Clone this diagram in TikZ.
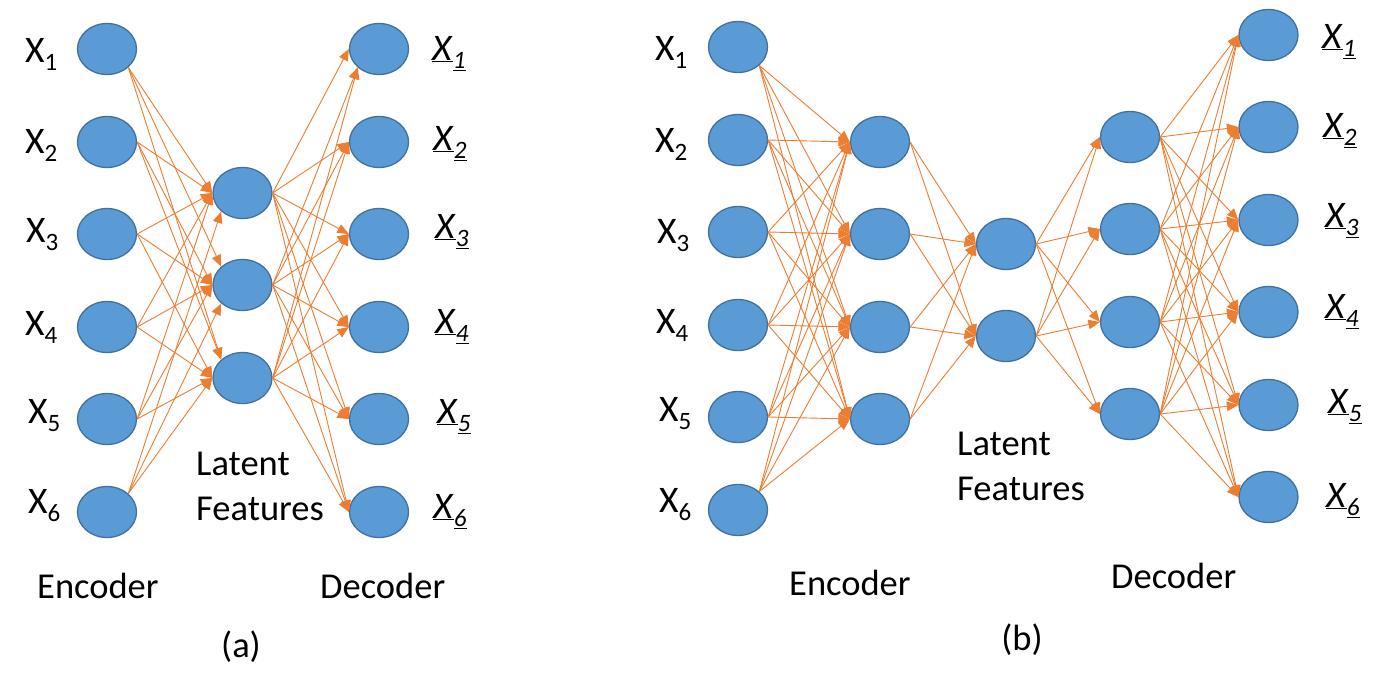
\documentclass[tikz,border=0pt]{standalone}
\usepackage{fontspec}
\setmainfont{Carlito}
\usetikzlibrary{shapes.geometric,arrows.meta}
\definecolor{nfill}{HTML}{5B9BD5}
\definecolor{nborder}{HTML}{41719C}
\definecolor{eorange}{HTML}{ED7D31}
\newcommand\inlab[1]{X\raisebox{-8.5pt}{\fontsize{25}{30}\selectfont #1}}
\newcommand\outlab[1]{\underline{\textit{X}}\raisebox{-8.5pt}{\fontsize{25}{30}\selectfont\underline{\textit{#1}}}}
\tikzset{
  neuron/.style={ellipse, draw=nborder, fill=nfill, line width=1.3pt, minimum width=59pt, minimum height=51pt, inner sep=0pt},
  conn/.style={draw=eorange, line width=0.9pt, -{Triangle[length=11.5pt,width=9.5pt]}},
  xlab/.style={anchor=base west, inner sep=0pt, font=\fontsize{37.5}{44}\selectfont},
  word/.style={anchor=base west, inner sep=0pt, font=\fontsize{36.5}{43}\selectfont},
}
\begin{document}
\begin{tikzpicture}[x=1pt,y=-1pt]
\fill[white] (0,0) rectangle (1375,691);
\useasboundingbox (0,0) rectangle (1375,691);

% ---------- panel (a) ----------
\foreach \i/\y in {1/49,2/142,3/234,4/327,5/419,6/512} {
  \node[neuron] (ea\i) at (107,\y) {};
  \node[neuron] (da\i) at (379,\y) {};
}
\foreach \j/\y in {1/193,2/285,3/378}
  \node[neuron] (la\j) at (242.5,\y) {};

\foreach \i/\sa/\ta in {1/south east/west,2/east/west,3/east/west,4/east/west,5/east/west,6/north east/south west}
  \draw[conn] (ea\i.\sa) -- (la1.\ta);
\foreach \i/\sa/\ta in {1/south east/north west,2/east/west,3/east/west,4/east/west,5/east/west,6/north east/south west}
  \draw[conn] (ea\i.\sa) -- (la2.\ta);
\foreach \i/\sa/\ta in {1/south east/north west,2/east/north west,3/east/west,4/east/west,5/east/west,6/north east/west}
  \draw[conn] (ea\i.\sa) -- (la3.\ta);

\draw[conn] (la1.east) -- (da1.west);
\draw[conn] (la2.east) -- (da1.south west);
\draw[conn] (la3.east) -- (da1.south west);
\foreach \j in {1,2,3}
  \foreach \i in {2,3,4,5,6}
    \draw[conn] (la\j.east) -- (da\i.west);

\node[xlab] (ia1) at (25,62) {\inlab{1}};
\node[xlab] (ia2) at (25,153) {\inlab{2}};
\node[xlab] (ia3) at (26,242) {\inlab{3}};
\node[xlab] (ia4) at (25,335) {\inlab{4}};
\node[xlab] (ia5) at (28,423) {\inlab{5}};
\node[xlab] (ia6) at (28,513) {\inlab{6}};

\node[xlab] (oa1) at (432,60) {\outlab{1}};
\node[xlab] (oa2) at (433,150) {\outlab{2}};
\node[xlab] (oa3) at (435,238) {\outlab{3}};
\node[xlab] (oa4) at (435,333) {\outlab{4}};
\node[xlab] (oa5) at (437,423) {\outlab{5}};
\node[xlab] (oa6) at (433,518) {\outlab{6}};

\node[word] (lta) at (196,475) {Latent};
\node[word] (lfa) at (196,520) {Features};
\node[word] (enca) at (37,598) {Encoder};
\node[word] (deca) at (320,598) {Decoder};
\node[word, anchor=base] (capa) at (241,657) {(a)};

% ---------- panel (b) ----------
\foreach \i/\y in {1/47,2/140,3/232,4/325,5/417,6/510}
  \node[neuron] (eb\i) at (738,\y) {};
\foreach \i/\y in {1/142,2/234,3/327,4/419}
  \node[neuron] (hb\i) at (880,\y) {};
\foreach \i/\y in {1/244,2/336}
  \node[neuron] (lb\i) at (1006,\y) {};
\foreach \i/\y in {1/137,2/229,3/322,4/414}
  \node[neuron] (gb\i) at (1130,\y) {};
\foreach \i/\y in {1/35,2/127,3/220,4/312,5/405,6/497}
  \node[neuron] (ob\i) at (1268.5,\y) {};

\foreach \i/\sa in {1/south east,2/east,3/east,4/east,5/east,6/north east}
  \foreach \j in {1,2,3,4}
    \draw[conn] (eb\i.\sa) -- (hb\j.west);
\foreach \i in {1,2,3,4}
  \foreach \j in {1,2}
    \draw[conn] (hb\i.east) -- (lb\j.west);
\foreach \i in {1,2}
  \foreach \j in {1,2,3,4}
    \draw[conn] (lb\i.east) -- (gb\j.west);
\foreach \i in {1,2,3,4}
  \foreach \j in {1,2,3,4,5,6}
    \draw[conn] (gb\i.east) -- (ob\j.west);

\node[xlab] (ib1) at (655,60) {\inlab{1}};
\node[xlab] (ib2) at (655,152) {\inlab{2}};
\node[xlab] (ib3) at (657,243) {\inlab{3}};
\node[xlab] (ib4) at (656,333) {\inlab{4}};
\node[xlab] (ib5) at (659,421) {\inlab{5}};
\node[xlab] (ib6) at (659,512) {\inlab{6}};

\node[xlab] (obl1) at (1322,48) {\outlab{1}};
\node[xlab] (obl2) at (1323,137) {\outlab{2}};
\node[xlab] (obl3) at (1325,227) {\outlab{3}};
\node[xlab] (obl4) at (1325,318) {\outlab{4}};
\node[xlab] (obl5) at (1328,413) {\outlab{5}};
\node[xlab] (obl6) at (1326,507) {\outlab{6}};

\node[word] (ltb) at (957,455) {Latent};
\node[word] (lfb) at (957,500) {Features};
\node[word] (encb) at (789,595) {Encoder};
\node[word] (decb) at (1111,588) {Decoder};
\node[word, anchor=base] (capb) at (1022,650) {(b)};
\end{tikzpicture}
\end{document}
